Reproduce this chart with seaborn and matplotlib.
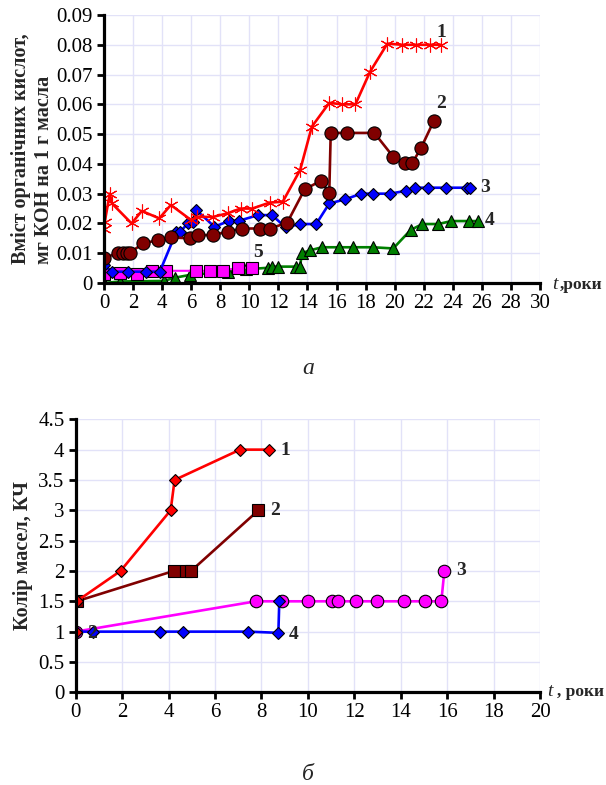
import numpy as np
import matplotlib
matplotlib.use("Agg")
import matplotlib.pyplot as plt
import seaborn as sns

# --- дані, рисунок а: вміст органічних кислот, мг КОН/г ---
t1 = [0, 0.05, 0.4, 0.55, 1.9, 2.6, 3.8, 4.6, 6.0, 6.4, 7.5, 8.5, 9.4, 10.2, 11.4, 12.3,
      13.5, 14.3, 15.5, 16.4, 17.3, 18.3, 19.5, 20.5, 21.5, 22.4, 23.2]
k1 = [0.018, 0.0205, 0.030, 0.0267, 0.020, 0.0242, 0.0217, 0.0262, 0.0211, 0.0222, 0.0222,
      0.0234, 0.025, 0.025, 0.027, 0.0273, 0.038, 0.0525, 0.0605, 0.060, 0.060, 0.0709,
      0.0804, 0.080, 0.080, 0.080, 0.080]

t2 = [0, 0.98, 1.28, 1.55, 1.78, 2.7, 3.7, 4.6, 5.9, 6.5, 7.5, 8.5, 9.5, 10.7, 11.4, 12.6,
      13.8, 14.9, 15.5, 15.6, 16.7, 18.6, 19.9, 20.7, 21.2, 21.8, 22.7]
k2 = [0.0083, 0.0102, 0.0102, 0.0102, 0.0102, 0.0133, 0.0144, 0.0153, 0.015, 0.0161, 0.0161,
      0.0172, 0.0183, 0.0183, 0.0183, 0.0202, 0.0314, 0.0343, 0.0303, 0.0504, 0.0504,
      0.0504, 0.0424, 0.0402, 0.0402, 0.0452, 0.0545]

t3 = [0, 0.53, 1.67, 2.9, 3.84, 4.98, 5.2, 5.77, 6.1, 6.35, 7.6, 8.63, 9.3, 10.6, 11.55,
      12.5, 13.5, 14.6, 15.5, 16.6, 17.7, 18.5, 19.7, 20.8, 21.4, 22.3, 23.5, 24.95, 25.2]
k3 = [0.006, 0.0038, 0.0038, 0.0038, 0.0038, 0.0172, 0.017, 0.020, 0.0204, 0.0245, 0.0189,
      0.0209, 0.0209, 0.0228, 0.0228, 0.0187, 0.0198, 0.0198, 0.0267, 0.0281, 0.030, 0.030,
      0.030, 0.031, 0.032, 0.032, 0.032, 0.032, 0.032]

t4 = [0, 1.1, 4.1, 4.9, 5.9, 8.5, 9.77, 11.25, 11.55, 12.0, 13.2, 13.5, 13.6, 14.2, 15.0,
      16.2, 17.1, 18.5, 19.9, 21.1, 21.9, 23.0, 23.9, 25.1, 25.7]
k4 = [0.0, 0.0005, 0.0007, 0.0018, 0.0027, 0.0038, 0.0046, 0.0051, 0.0055, 0.0055, 0.0055,
      0.0055, 0.010, 0.011, 0.012, 0.012, 0.012, 0.012, 0.0116, 0.0178, 0.0198, 0.0198,
      0.0208, 0.0208, 0.0208]

t5 = [0, 1.1, 2.28, 3.27, 4.3, 6.35, 7.26, 8.17, 9.2, 10.2]
k5 = [0.003, 0.0033, 0.003, 0.0041, 0.0041, 0.0041, 0.0041, 0.0041, 0.0051, 0.0051]

# --- дані, рисунок б: колір масел, КЧ ---
c1_t = [0, 0.04, 1.93, 4.09, 4.26, 7.08, 8.34]
c1_v = [1.0, 1.5, 2.0, 3.0, 3.5, 4.0, 4.0]
c2_t = [0.04, 4.22, 4.73, 4.97, 7.87]
c2_v = [1.5, 2.0, 2.0, 2.0, 3.0]
c3_t = [0, 7.76, 8.87, 10.0, 11.06, 11.3, 12.08, 12.98, 14.16, 15.03, 15.75, 15.88]
c3_v = [1.0, 1.5, 1.5, 1.5, 1.5, 1.5, 1.5, 1.5, 1.5, 1.5, 1.5, 2.0]
c4_t = [0, 0.75, 3.64, 4.62, 7.44, 8.73, 8.77]
c4_v = [1.0, 1.0, 1.0, 1.0, 1.0, 0.98, 1.5]

top_xticks = list(range(0, 31, 2))
top_yticks = [0, 0.01, 0.02, 0.03, 0.04, 0.05, 0.06, 0.07, 0.08, 0.09]
top_ylabels = ["0", "0.01", "0.02", "0.03", "0.04", "0.05", "0.06", "0.07", "0.08", "0.09"]
bot_xticks = list(range(0, 21, 2))
bot_yticks = [0, 0.5, 1, 1.5, 2, 2.5, 3, 3.5, 4, 4.5]
bot_ylabels = ["0", "0.5", "1", "1.5", "2", "2.5", "3", "3.5", "4", "4.5"]

sns.set_theme(style="white")
plt.rcParams['font.family'] = ['Liberation Serif', 'DejaVu Serif']

fig = plt.figure(figsize=(6.06, 7.85), dpi=100)
W, H = 606, 785
ax1 = fig.add_axes([104 / W, 1 - 283 / H, (540 - 104) / W, (283 - 15) / H])
ax2 = fig.add_axes([75.7 / W, 1 - 692.3 / H, (540 - 75.7) / W, (692.3 - 419.3) / H])

lw = 1.9
ast = (6, 2, 0)


def line(ax, x, y, color, marker, ms, edge='black', lw=lw):
    sns.lineplot(x=x, y=y, ax=ax, color=color, marker=marker, markersize=ms,
                 markerfacecolor=color, markeredgecolor=edge, markeredgewidth=0.8,
                 linewidth=lw, sort=False, estimator=None, legend=False, zorder=3)


line(ax1, t4, k4, '#008000', '^', 8.5)
line(ax1, t5, k5, '#FF00FF', 's', 9, lw=1.5)
line(ax1, t3, k3, '#0000FF', 'D', 6.5)
line(ax1, t2, k2, '#800000', 'o', 9.5)
line(ax1, t1, k1, '#FF0000', ast, 10, edge='#FF0000')

line(ax2, c3_t, c3_v, '#FF00FF', 'o', 9)
line(ax2, c4_t, c4_v, '#0000FF', 'D', 6.5)
line(ax2, c2_t, c2_v, '#800000', 's', 8.5)
line(ax2, c1_t, c1_v, '#FF0000', 'D', 6.5)

grid_c = '#E2E2F8'
for ax, xt, yt, yl in [(ax1, top_xticks, top_yticks, top_ylabels),
                       (ax2, bot_xticks, bot_yticks, bot_ylabels)]:
    ax.set_xlim(xt[0], xt[-1])
    ax.set_ylim(yt[0], yt[-1])
    ax.set_xticks(xt)
    ax.set_yticks(yt)
    ax.set_yticklabels(yl)
    ax.grid(True, color=grid_c, linewidth=1.0, zorder=0)
    ax.set_axisbelow(True)
    for s in ['top', 'right']:
        ax.spines[s].set_visible(False)
    for s in ['left', 'bottom']:
        ax.spines[s].set_color('black')
        ax.spines[s].set_linewidth(2.3)
        ax.spines[s].set_zorder(5)
    ax.tick_params(axis='both', direction='out', length=5, width=2, color='black',
                   labelsize=15, pad=3, labelcolor='black')
    ax.tick_params(axis='both', which='both', bottom=True, left=True)
    ax.set_xlabel('')
    ax.set_ylabel('')
    ax.patch.set_alpha(0)

ax1.set_ylabel("Вміст органічних кислот,\nмг КОН на 1 г масла", fontsize=14.5,
               fontweight='bold', labelpad=2, multialignment='left')
ax2.set_ylabel("Колір масел, КЧ", fontsize=14.5, fontweight='bold', labelpad=4)

lab = dict(fontsize=14, fontweight='bold', ha='center', va='center', clip_on=False)
ax1.text(23.2, 0.084, "1", **lab)
ax1.text(23.2, 0.0604, "2", **lab)
ax1.text(26.2, 0.0322, "3", **lab)
ax1.text(26.5, 0.0211, "4", **lab)
ax1.text(10.6, 0.0104, "5", **lab)

ax2.text(9.05, 3.98, "1", **lab)
ax2.text(8.6, 2.99, "2", **lab)
ax2.text(0.7, 0.97, "2", **lab)
ax2.text(16.6, 2.0, "3", **lab)
ax2.text(9.4, 0.96, "4", **lab)

# підписи осі часу
fig.text(555 / W, 1 - 285 / H, "t", fontsize=14, style='italic', ha='center', va='center')
fig.text(602 / W, 1 - 285 / H, ",роки", fontsize=12.5, fontweight='bold', ha='right', va='center')
fig.text(550 / W, 1 - 692 / H, "t", fontsize=14, style='italic', ha='center', va='center')
fig.text(604 / W, 1 - 692 / H, ", роки", fontsize=12.5, fontweight='bold', ha='right', va='center')

fig.text(308 / W, 1 - 369 / H, "а", fontsize=17, style='italic', ha='center', va='center')
fig.text(308 / W, 1 - 775 / H, "б", fontsize=17, style='italic', ha='center', va='center')

fig.savefig("out.png", dpi=100, facecolor='white')
